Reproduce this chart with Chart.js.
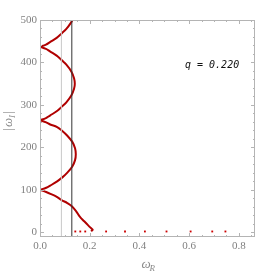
<!DOCTYPE html>
<html>
<head>
<meta charset="utf-8">
<script src="https://cdn.jsdelivr.net/npm/chart.js@4.4.0/dist/chart.umd.min.js"></script>
<style>
  html, body { margin: 0; padding: 0; background: #fff; }
  canvas { display: block; }
</style>
</head>
<body>
<canvas id="c" width="277" height="273"></canvas>
<script>
// ---- data ----
// dispersion curve, one segment per branch between cusps (bottom to top)
const tailX = [0.208, 0.212, 0.205, 0.193, 0.178, 0.160, 0.145, 0.127, 0.110, 0.087, 0.066, 0.045, 0.025, 0];
const tailY = [4, 6, 10, 17, 26, 37, 50, 62, 69, 76, 84, 90, 95, 100];
const arc1X = [0, 0.025, 0.041, 0.069, 0.091, 0.109, 0.130, 0.141, 0.144, 0.141, 0.130, 0.109, 0.091, 0.069, 0.041, 0.025, 0];
const arc1Y = [100, 105, 110, 120, 130, 140, 155, 170, 184, 198, 213, 228, 238, 248, 254, 259, 264];
const arc2X = [0, 0.024, 0.040, 0.067, 0.088, 0.106, 0.126, 0.137, 0.140, 0.137, 0.126, 0.106, 0.088, 0.067, 0.040, 0.024, 0];
const arc2Y = [264, 269, 275, 285, 296, 306, 322, 338, 350, 363, 379, 395, 405, 416, 426, 432, 437];
const arc3X = [0, 0.024, 0.040, 0.067, 0.088, 0.106, 0.126, 0.130, 0.133];
const arc3Y = [437, 442, 448, 458, 469, 479, 495, 500, 505];

// isolated points along the real axis
const dotsX = [0.142, 0.162, 0.182, 0.266, 0.342, 0.422, 0.509, 0.606, 0.693, 0.746];
const dotsY = [2, 2, 2, 2, 2, 2, 2, 2, 2, 2];

// reference vertical lines
const blackLineX = 0.128;
const grayLineX = 0.086;

const xTicks = [0, 0.2, 0.4, 0.6, 0.8];
const yTicks = [0, 100, 200, 300, 400, 500];
const xRange = [0, 0.865];
const yRange = [-11, 500];
const label = 'q = 0.220';

// ---- helpers ----
const pts = (xs, ys) => xs.map((x, i) => ({ x, y: ys[i] }));
const vline = x => [{ x, y: yRange[0] - 20 }, { x, y: yRange[1] + 20 }];
const branch = (xs, ys) => ({
  data: pts(xs, ys), showLine: true, borderColor: '#b00000', borderWidth: 2,
  pointRadius: 0, tension: 0.4, borderCapStyle: 'round'
});

const framePlugin = {
  id: 'frame',
  afterDraw(chart) {
    const { ctx, chartArea: a, scales: { x, y } } = chart;
    ctx.save();
    ctx.strokeStyle = '#b4b4b4';
    ctx.lineWidth = 1;
    ctx.strokeRect(a.left + 0.5, a.top + 0.5, a.right - a.left - 1, a.bottom - a.top - 1);

    // inward ticks on all four sides
    ctx.beginPath();
    for (let v = 0; v <= xRange[1] + 1e-9; v += 0.05) {
      const px = Math.round(x.getPixelForValue(v)) + 0.5;
      const major = Math.abs(v / 0.2 - Math.round(v / 0.2)) < 1e-6;
      const len = major ? 4 : 2;
      ctx.moveTo(px, a.bottom); ctx.lineTo(px, a.bottom - len);
      ctx.moveTo(px, a.top); ctx.lineTo(px, a.top + len);
    }
    for (let v = 0; v <= yRange[1] + 1e-9; v += 20) {
      const py = Math.round(y.getPixelForValue(v)) + 0.5;
      const len = v % 100 === 0 ? 4 : 2;
      ctx.moveTo(a.left, py); ctx.lineTo(a.left + len, py);
      ctx.moveTo(a.right, py); ctx.lineTo(a.right - len, py);
    }
    ctx.stroke();

    // annotation
    ctx.fillStyle = '#111';
    ctx.font = 'italic 10px "DejaVu Sans Mono"';
    ctx.textBaseline = 'middle';
    ctx.textAlign = 'left';
    ctx.fillText(label, 185, 65);

    // axis titles
    ctx.fillStyle = '#8a8a8a';
    ctx.font = 'italic 13px "Liberation Serif"';
    ctx.textBaseline = 'alphabetic';
    const cx = (a.left + a.right) / 2;
    ctx.fillText('ω', cx - 6, 268);
    ctx.font = 'italic 9px "Liberation Serif"';
    ctx.fillText('R', cx + 2, 271);

    ctx.translate(12, 120);
    ctx.rotate(-Math.PI / 2);
    ctx.font = '13px "Liberation Serif"';
    ctx.fillText('|', -11, 0);
    ctx.font = 'italic 13px "Liberation Serif"';
    ctx.fillText('ω', -7, 0);
    ctx.font = 'italic 9px "Liberation Serif"';
    ctx.fillText('I', 2, 3);
    ctx.font = '13px "Liberation Serif"';
    ctx.fillText('|', 6, 0);
    ctx.restore();
  }
};

const tickFont = { family: 'Liberation Serif', size: 11 };

new Chart(document.getElementById('c'), {
  type: 'scatter',
  data: {
    datasets: [
      { data: vline(grayLineX), showLine: true, borderColor: '#c8c8c8', borderWidth: 1, pointRadius: 0 },
      { data: vline(blackLineX), showLine: true, borderColor: '#333', borderWidth: 1, pointRadius: 0 },
      branch(tailX, tailY),
      branch(arc1X, arc1Y),
      branch(arc2X, arc2Y),
      branch(arc3X, arc3Y),
      { data: pts(dotsX, dotsY), pointStyle: 'rect', pointRadius: 1.3, backgroundColor: '#cc0000', borderColor: '#cc0000', borderWidth: 0 }
    ]
  },
  options: {
    responsive: false, animation: false, devicePixelRatio: 1,
    layout: { padding: { left: 0, top: 20, right: 22, bottom: 0 } },
    plugins: { legend: { display: false }, tooltip: { enabled: false } },
    scales: {
      x: {
        type: 'linear', min: xRange[0], max: xRange[1],
        grid: { display: false, drawTicks: false }, border: { display: false },
        afterBuildTicks: s => { s.ticks = xTicks.map(v => ({ value: v })); },
        afterFit: s => { s.height = 36; },
        ticks: { color: '#808080', font: tickFont, padding: 3, maxRotation: 0, callback: v => v.toFixed(1) }
      },
      y: {
        type: 'linear', min: yRange[0], max: yRange[1],
        grid: { display: false, drawTicks: false }, border: { display: false },
        afterBuildTicks: s => { s.ticks = yTicks.map(v => ({ value: v })); },
        afterFit: s => { s.width = 40; },
        ticks: { color: '#808080', font: tickFont, padding: 3 }
      }
    }
  },
  plugins: [framePlugin]
});
</script>
</body>
</html>
